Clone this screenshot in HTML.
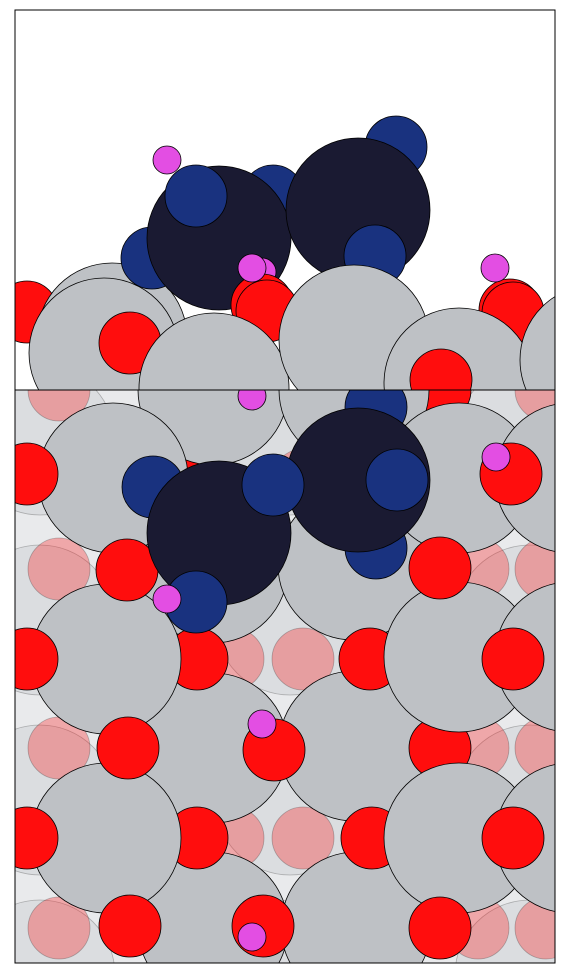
<!DOCTYPE html>
<html><head><meta charset="utf-8"><style>
html,body{margin:0;padding:0;background:#fff;width:565px;height:978px;overflow:hidden}
svg{display:block;overflow:hidden}
</style></head><body>
<svg id="fig" width="565" height="978" viewBox="0 0 565 978">
<defs>
<clipPath id="ct"><rect x="15" y="10" width="540" height="380"/></clipPath>
<clipPath id="cb"><rect x="15" y="390" width="540" height="573"/></clipPath>
</defs>
<rect x="15" y="10" width="540" height="380" fill="#fff"/>
<rect x="15" y="390" width="540" height="573" fill="#e9eaec"/>
<g id="gt" clip-path="url(#ct)"></g>
<g id="gb" clip-path="url(#cb)"></g>
<rect x="15" y="10" width="540" height="380" fill="none" stroke="#000" stroke-width="1"/>
<rect x="15" y="390" width="540" height="573" fill="none" stroke="#000" stroke-width="1"/>
</svg>
<script>
const topAtoms = [
 ['o',27,312],['o',510,310],['g',112,338],['g',104,353],['o',130,343],
 ['n',152,258],['n',273,196],['n',396,147],
 ['c',219,238],['c',358,210],['n',196,196],['n',375,256],['h',167,160],
 ['h',262,272],['o',262,305],['o',267,311],['h',252,268],['h',495,268],['o',513,313],
 ['g',214,388],['g',354,340],['g',459,383],['o',441,380],['g',595,360]
];
const bottomAtoms = [
 ['f',40,440],['f',290,440],['f',530,440],['f',40,620],['f',290,620],['f',530,620],['f',40,800],['f',290,800],['f',530,800],['f',40,975],['f',290,975],['f',530,975],
 ['p',59,390],['p',59,569],['p',59,748],['p',59,928],['p',303,659],['p',303,838],['p',233,659],['p',233,838],['p',478,569],['p',478,748],['p',478,928],['p',546,390],['p',546,569],['p',546,748],['p',546,928],['p',303,480],
 ['o',263,390],['o',440,390],['o',197,474],['o',263,565],
 ['g',213,390],['g',354,390],
 ['g',213,568],['g',353,565],['g',213,748],['g',354,746],['g',213,927],['g',356,927],
 ['o',197,659],['o',370,659],['o',197,838],['o',372,838],['o',440,748],
 ['g',113,478],['g',459,478],['g',570,478],
 ['g',106,659],['g',459,657],['g',570,657],
 ['g',106,838],['g',459,838],['g',570,838],
 ['o',27,474],['o',127,570],['o',440,568],['o',511,474],
 ['o',27,659],['o',513,659],
 ['o',128,748],['o',274,750],
 ['o',27,838],['o',513,838],
 ['o',130,926],['o',263,926],['o',440,928],
 ['n',153,487],['n',376,407],['n',376,548],
 ['c',219,533],['c',358,480],
 ['n',273,485],['n',397,480],['n',196,602],
 ['h',252,396],['h',496,457],['h',167,599],['h',262,724],['h',252,937]
];
const style = {
 g:{r:75,fill:'#bec1c5',op:1,name:'metal-atom'},
 o:{r:31,fill:'#ff0d0d',op:1,name:'oxygen-atom'},
 h:{r:14,fill:'#e34ee3',op:1,name:'hydrogen-atom'},
 n:{r:31,fill:'#19327f',op:1,name:'nitrogen-atom'},
 c:{r:72,fill:'#1a1a32',op:1,name:'large-dark-atom'},
 p:{r:31,fill:'#ff0d0d',op:0.3,name:'subsurface-oxygen-atom'},
 f:{r:75,fill:'#bec1c5',op:0.3,name:'subsurface-metal-atom'}
};
const NS='http://www.w3.org/2000/svg';
function draw(gid, atoms){
 const g=document.getElementById(gid);
 atoms.forEach(a=>{
  const s=style[a[0]];
  const c=document.createElementNS(NS,'circle');
  c.setAttribute('cx',a[1]);c.setAttribute('cy',a[2]);c.setAttribute('r',s.r);
  c.setAttribute('fill',s.fill);c.setAttribute('fill-opacity',s.op);
  c.setAttribute('stroke','#000');c.setAttribute('stroke-width','0.8');
  c.setAttribute('stroke-opacity',s.op<1?0.25:1);
  
  
  g.appendChild(c);
 });
}
draw('gt',topAtoms);
draw('gb',bottomAtoms);
</script>
</body></html>
